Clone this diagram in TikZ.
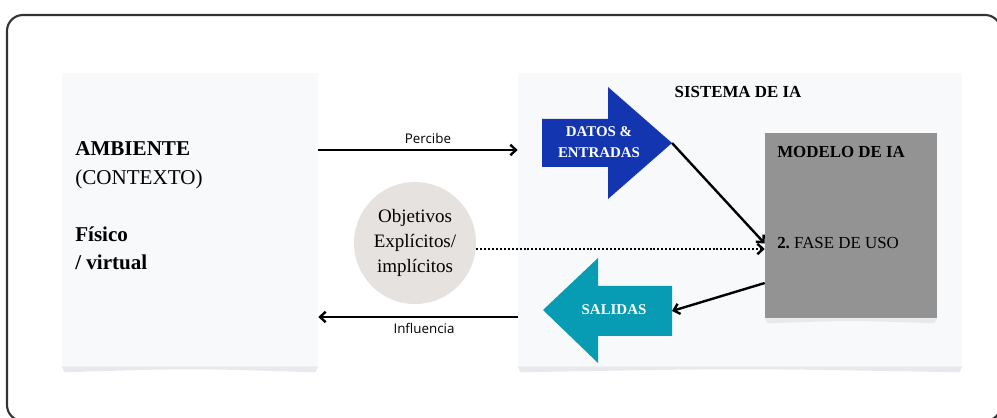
\documentclass[tikz,border=0pt]{standalone}
\usepackage{fontspec}
\setmainfont{Liberation Serif}
\newfontfamily\labelfont{Open Sans}
\usetikzlibrary{calc,arrows.meta}
\definecolor{panelbg}{HTML}{F8F9FB}
\definecolor{panelshade}{HTML}{E8E9EC}
\definecolor{goalgray}{HTML}{E6E2E0}
\definecolor{modelgray}{HTML}{939393}
\definecolor{datosblue}{HTML}{1336B0}
\definecolor{salidasteal}{HTML}{089CB4}
\definecolor{framegray}{HTML}{333333}

\begin{document}
\begin{tikzpicture}[x=0.025cm,y=0.025cm,
  panel/.style={fill=panelbg, minimum height=7.325cm, inner sep=0pt},
  flow/.style={-{Straight Barb[length=4pt,width=7.5pt]}, line width=1.7pt},
  amb/.style={anchor=base west, inner sep=0pt, font=\fontsize{15}{18}\selectfont},
  boxtxt/.style={anchor=base west, inner sep=0pt, font=\fontsize{12}{14}\selectfont},
  arrowtxt/.style={text=white, align=center, inner sep=0pt, font=\fontsize{10.6}{14.9}\selectfont\bfseries},
  lbl/.style={font=\labelfont\fontsize{9.5}{11}\selectfont}]
\useasboundingbox (0,0) rectangle (997,418);
\clip (0,0) rectangle (997,418);
\draw[line width=1.5pt, framegray, rounded corners=0.4cm] (7,-3) rectangle (1001,403);

%% panels
\node[panel, minimum width=6.4cm] (ambiente) at (190,198.5) {};
\node[panel, minimum width=11.1cm] (sistema) at (740,198.5) {};
\fill[panelshade] (ambiente.south west) -- ++(3,-6) .. controls ($(ambiente.south)+(0,-2)$) .. ($(ambiente.south east)+(-3,-6)$) -- (ambiente.south east) -- cycle;
\fill[panelshade] (sistema.south west) -- ++(3,-6) .. controls ($(sistema.south)+(0,-2)$) .. ($(sistema.south east)+(-3,-6)$) -- (sistema.south east) -- cycle;

%% ambiente
\node[amb] (ambtit) at (75,262) {\bfseries AMBIENTE};
\node[amb] (contexto) at (75,233) {(CONTEXTO)};
\node[amb] (fisico) at (75,176) {\bfseries Físico};
\node[amb] (virtual) at (75,148) {\bfseries / virtual};

%% objetivos
\node[circle, fill=goalgray, minimum size=3.05cm, align=center, inner sep=0pt,
  font=\fontsize{13.5}{17.8}\selectfont] (objetivos) at (415,175) {Objetivos\\Explícitos/\\implícitos};

%% sistema de IA
\node[anchor=base, font=\fontsize{12}{14}\selectfont\bfseries] (sistit) at (738,320) {SISTEMA DE IA};
\node[fill=modelgray, minimum width=4.3cm, minimum height=4.625cm, inner sep=0pt] (modelo) at (851,192.5) {};
\fill[panelshade] (modelo.south west) -- ++(3,-5) .. controls ($(modelo.south)+(0,-2)$) .. ($(modelo.south east)+(-3,-5)$) -- (modelo.south east) -- cycle;
\node[boxtxt] (modtit) at (777,260) {\bfseries MODELO DE IA};
\node[boxtxt] (fase) at (777,169) {\bfseries 2.\mdseries\ FASE DE USO};

%% datos y salidas
\fill[datosblue] (542,251) -- (608,251) -- (608,219) -- (672,275) -- (608,331) -- (608,299) -- (542,299) -- cycle;
\coordinate (datostip) at (672,275);
\node[arrowtxt] (datos) at (599,276) {DATOS \&\\ENTRADAS};
\fill[salidasteal] (543,108) -- (598,160) -- (598,132) -- (672,132) -- (672,82) -- (598,82) -- (598,55) -- cycle;
\coordinate (salidasend) at (672,107);
\node[arrowtxt] (salidas) at (614,108) {SALIDAS};

%%% edges
\draw[flow] (ambiente.east |- 0,268) -- (sistema.west |- 0,268) node[lbl, pos=0.55, above] (percibe) {Percibe};
\draw[flow] (sistema.west |- 0,101) -- (ambiente.east |- 0,101) node[lbl, pos=0.47, below] (influencia) {Influencia};
\draw[flow, dash pattern=on 1.4pt off 1.4pt] (objetivos.east |- fase.base) -- (modelo.west |- fase.base);
\draw[flow] (datostip) -- (modelo.west |- fase.west);
\draw[flow] ($(modelo.south west)!0.19!(modelo.north west)$) -- (salidasend);
\end{tikzpicture}
\end{document}
